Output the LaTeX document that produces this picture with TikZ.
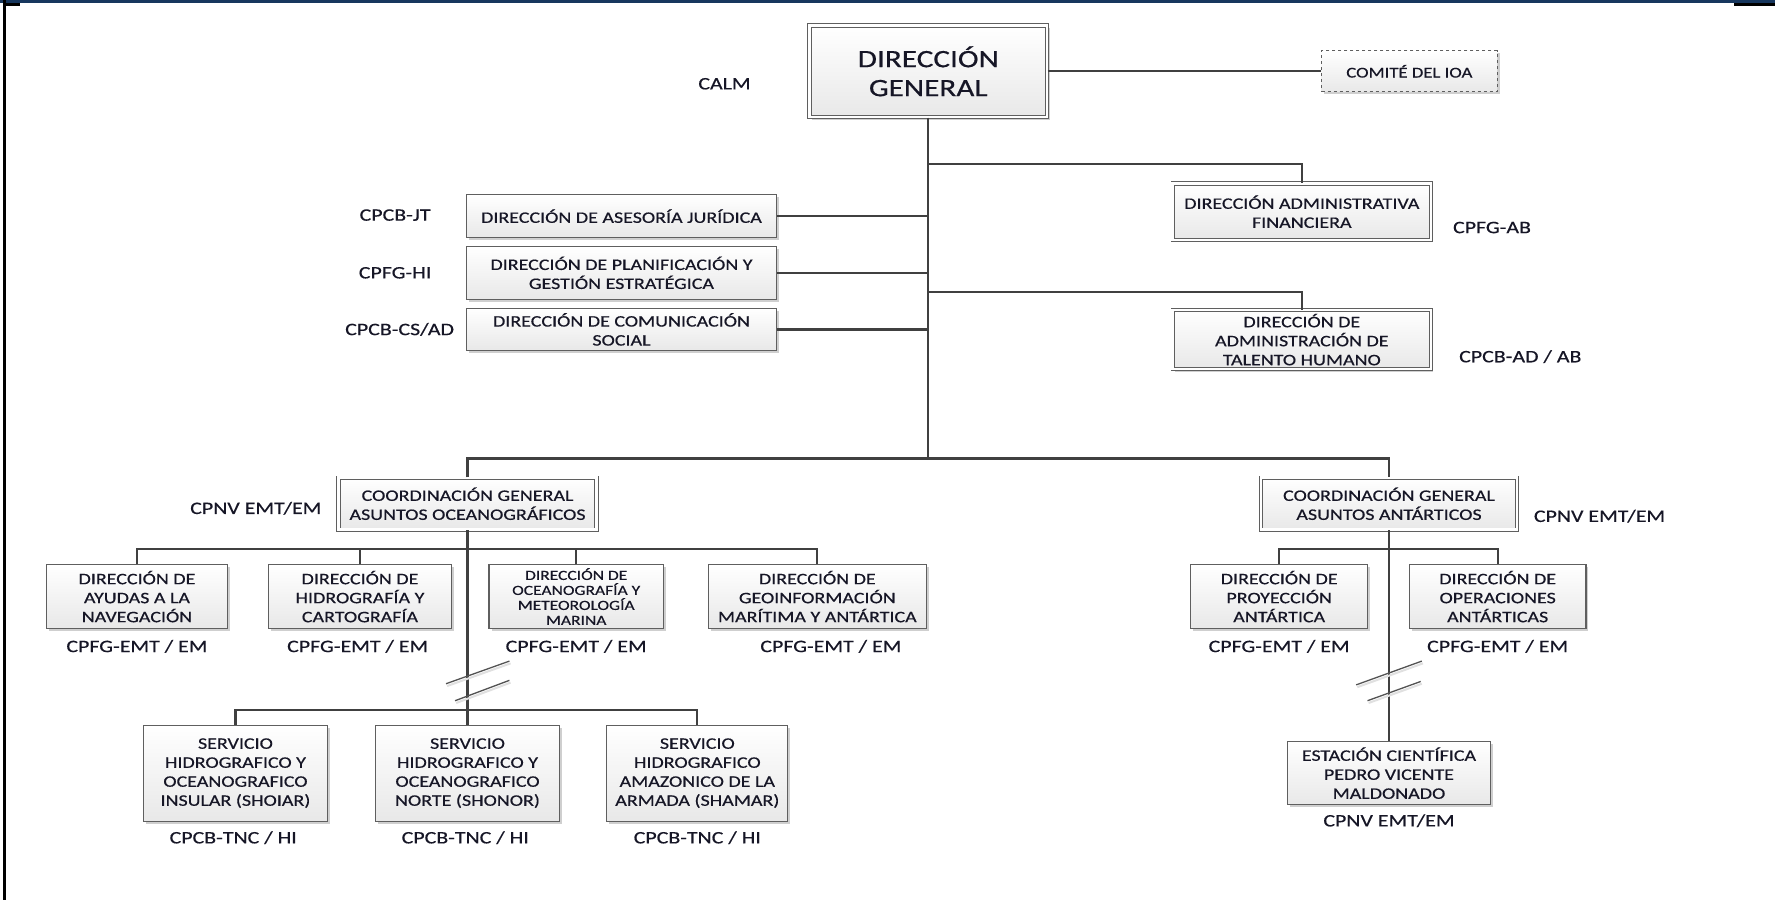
\documentclass[tikz,border=0pt]{standalone}
\usepackage{fontspec}
\setmainfont{Carlito}[FakeStretch=1.25,FakeBold=0.5]
\usetikzlibrary{shadows}
\definecolor{navy}{HTML}{17375E}
\definecolor{txt}{HTML}{161626}
\definecolor{ln}{HTML}{404040}
\definecolor{bd}{HTML}{5F5F5F}
\definecolor{shd}{HTML}{CFCFCF}
\begin{document}
\begin{tikzpicture}[x=1.132pt,y=-1.132pt,
  every node/.style={text=txt, align=center, inner sep=0pt},
  sz/.style 2 args={minimum width=#1*1.132pt, minimum height=#2*1.132pt},
  box/.style={draw=bd, line width=1.1pt, top color=white, bottom color=black!9,
    drop shadow={shadow xshift=2.5pt, shadow yshift=-2.5pt, fill=shd, opacity=1},
    font=\fontsize{16}{19}\selectfont},
  dbox/.style={box, double=white, double distance=2.6pt, line width=0.9pt},
  lab/.style={font=\fontsize{17.5}{20}\selectfont},
  conn/.style={draw=ln, line width=2.3pt},
  brk/.style={draw=ln!90, line width=1.3pt},
  brks/.style={draw=black!12, line width=2pt}]
\useasboundingbox (0,0) rectangle (1568,795);
\fill[white] (0,0) rectangle (1568,795);
% frame
\fill[navy] (0,0) rectangle (1568,2.7);
\fill[black] (5,2.7) rectangle (18,5.3);
\fill[black] (1532,2.7) rectangle (1568,5.3);
\fill[black] (2.9,0) rectangle (5,795);

% top level
\node[dbox, sz={210}{81}, font=\fontsize{25}{29}\selectfont] (DG) at (820,63) {DIRECCIÓN\\GENERAL};
\node[box, dashed, sz={155}{36}, font=\fontsize{15}{18}\selectfont] (CIOA) at (1245,63) {COMITÉ DEL IOA};
\node[lab] (lCALM) at (640,74) {CALM};

\node[dbox, sz={228}{50}] (DAF) at (1150,187) {DIRECCIÓN ADMINISTRATIVA\\FINANCIERA};
\node[dbox, sz={228}{52}] (DTH) at (1150,300) {DIRECCIÓN DE\\ADMINISTRACIÓN DE\\TALENTO HUMANO};
\node[lab] (lDAF) at (1318,201) {CPFG-AB};
\node[lab] (lDTH) at (1343,315) {CPCB-AD / AB};

\node[box, sz={274}{38}] (DAJ) at (549,191) {DIRECCIÓN DE ASESORÍA JURÍDICA};
\node[box, sz={274}{47}] (DPG) at (549,241) {DIRECCIÓN DE PLANIFICACIÓN Y\\GESTIÓN ESTRATÉGICA};
\node[box, sz={274}{37}] (DCS) at (549,291) {DIRECCIÓN DE COMUNICACIÓN\\SOCIAL};
\node[lab] (lDAJ) at (349,190) {CPCB-JT};
\node[lab] (lDPG) at (349,241) {CPFG-HI};
\node[lab] (lDCS) at (353,291) {CPCB-CS/AD};

% coordinations
\node[dbox, sz={228}{46}] (CGO) at (413,445) {COORDINACIÓN GENERAL\\ASUNTOS OCEANOGRÁFICOS};
\node[dbox, sz={226}{46}] (CGA) at (1227,445) {COORDINACIÓN GENERAL\\ASUNTOS ANTÁRTICOS};
\node[lab] (lCGO) at (226,449) {CPNV EMT/EM};
\node[lab] (lCGA) at (1413,456) {CPNV EMT/EM};

% row of directions
\node[box, sz={160}{56}] (D1) at (121,527) {DIRECCIÓN DE\\AYUDAS A LA\\NAVEGACIÓN};
\node[box, sz={161}{56}] (D2) at (318,527) {DIRECCIÓN DE\\HIDROGRAFÍA Y\\CARTOGRAFÍA};
\node[box, sz={154}{56}, font=\fontsize{14}{15}\selectfont] (D3) at (509,527) {DIRECCIÓN DE\\OCEANOGRAFÍA Y\\METEOROLOGÍA\\MARINA};
\node[box, sz={193}{56}] (D4) at (722,527) {DIRECCIÓN DE\\GEOINFORMACIÓN\\MARÍTIMA Y ANTÁRTICA};
\node[box, sz={156}{56}] (DPA) at (1130,527) {DIRECCIÓN DE\\PROYECCIÓN\\ANTÁRTICA};
\node[box, sz={156}{56}] (DOA) at (1323,527) {DIRECCIÓN DE\\OPERACIONES\\ANTÁRTICAS};
\node[lab] (lD1) at (121,571) {CPFG-EMT / EM};
\node[lab] (lD2) at (316,571) {CPFG-EMT / EM};
\node[lab] (lD3) at (509,571) {CPFG-EMT / EM};
\node[lab] (lD4) at (734,571) {CPFG-EMT / EM};
\node[lab] (lDPA) at (1130,571) {CPFG-EMT / EM};
\node[lab] (lDOA) at (1323,571) {CPFG-EMT / EM};

% services
\node[box, sz={162}{85}] (SH1) at (208,683) {SERVICIO\\HIDROGRAFICO Y\\OCEANOGRAFICO\\INSULAR (SHOIAR)};
\node[box, sz={162}{85}] (SH2) at (413,683) {SERVICIO\\HIDROGRAFICO Y\\OCEANOGRAFICO\\NORTE (SHONOR)};
\node[box, sz={160}{85}] (SH3) at (616,683) {SERVICIO\\HIDROGRAFICO\\AMAZONICO DE LA\\ARMADA (SHAMAR)};
\node[lab] (lSH1) at (206,740) {CPCB-TNC / HI};
\node[lab] (lSH2) at (411,740) {CPCB-TNC / HI};
\node[lab] (lSH3) at (616,740) {CPCB-TNC / HI};

\node[box, sz={180}{56}] (EST) at (1227,683) {ESTACIÓN CIENTÍFICA\\PEDRO VICENTE\\MALDONADO};
\node[lab] (lEST) at (1227,725) {CPNV EMT/EM};

% connectors
\coordinate (b1) at (820,145);
\coordinate (b2) at (820,258);
\coordinate (b3) at (820,405);
\coordinate (c1) at (413,485);
\coordinate (c2) at (413,627);
\coordinate (a1) at (1227,485);
\draw[conn] (DG.east) -- (CIOA.west);
\draw[conn] (DG.south) -- (b3);
\draw[conn] (b1) -| (DAF.north);
\draw[conn] (b2) -| (DTH.north);
\draw[conn] (DAJ.east) -- (DAJ.east -| b1);
\draw[conn] (DPG.east) -- (DPG.east -| b1);
\draw[conn] (DCS.east) -- (DCS.east -| b1);
\draw[conn] (CGO.north) |- (b3) -| (CGA.north);
\draw[conn] (D1.north) |- (c1) -| (D4.north);
\draw[conn] (D2.north) -- (D2.north |- c1);
\draw[conn] (D3.north) -- (D3.north |- c1);
\draw[conn] (CGO.south) -- (SH2.north);
\draw[conn] (SH1.north) |- (c2) -| (SH3.north);
\draw[conn] (CGA.south) -- (EST.north);
\draw[conn] (DPA.north) |- (a1) -| (DOA.north);

% break marks
\draw[brks] (395,606) -- (451,586);
\draw[brks] (403,621) -- (451,603);
\draw[brk] (394,604) -- (450,584);
\draw[brk] (402,619) -- (450,601);
\draw[brks] (1199,607) -- (1257,586);
\draw[brks] (1209,621) -- (1256,604);
\draw[brk] (1198,605) -- (1256,584);
\draw[brk] (1208,619) -- (1255,602);
\end{tikzpicture}
\end{document}
